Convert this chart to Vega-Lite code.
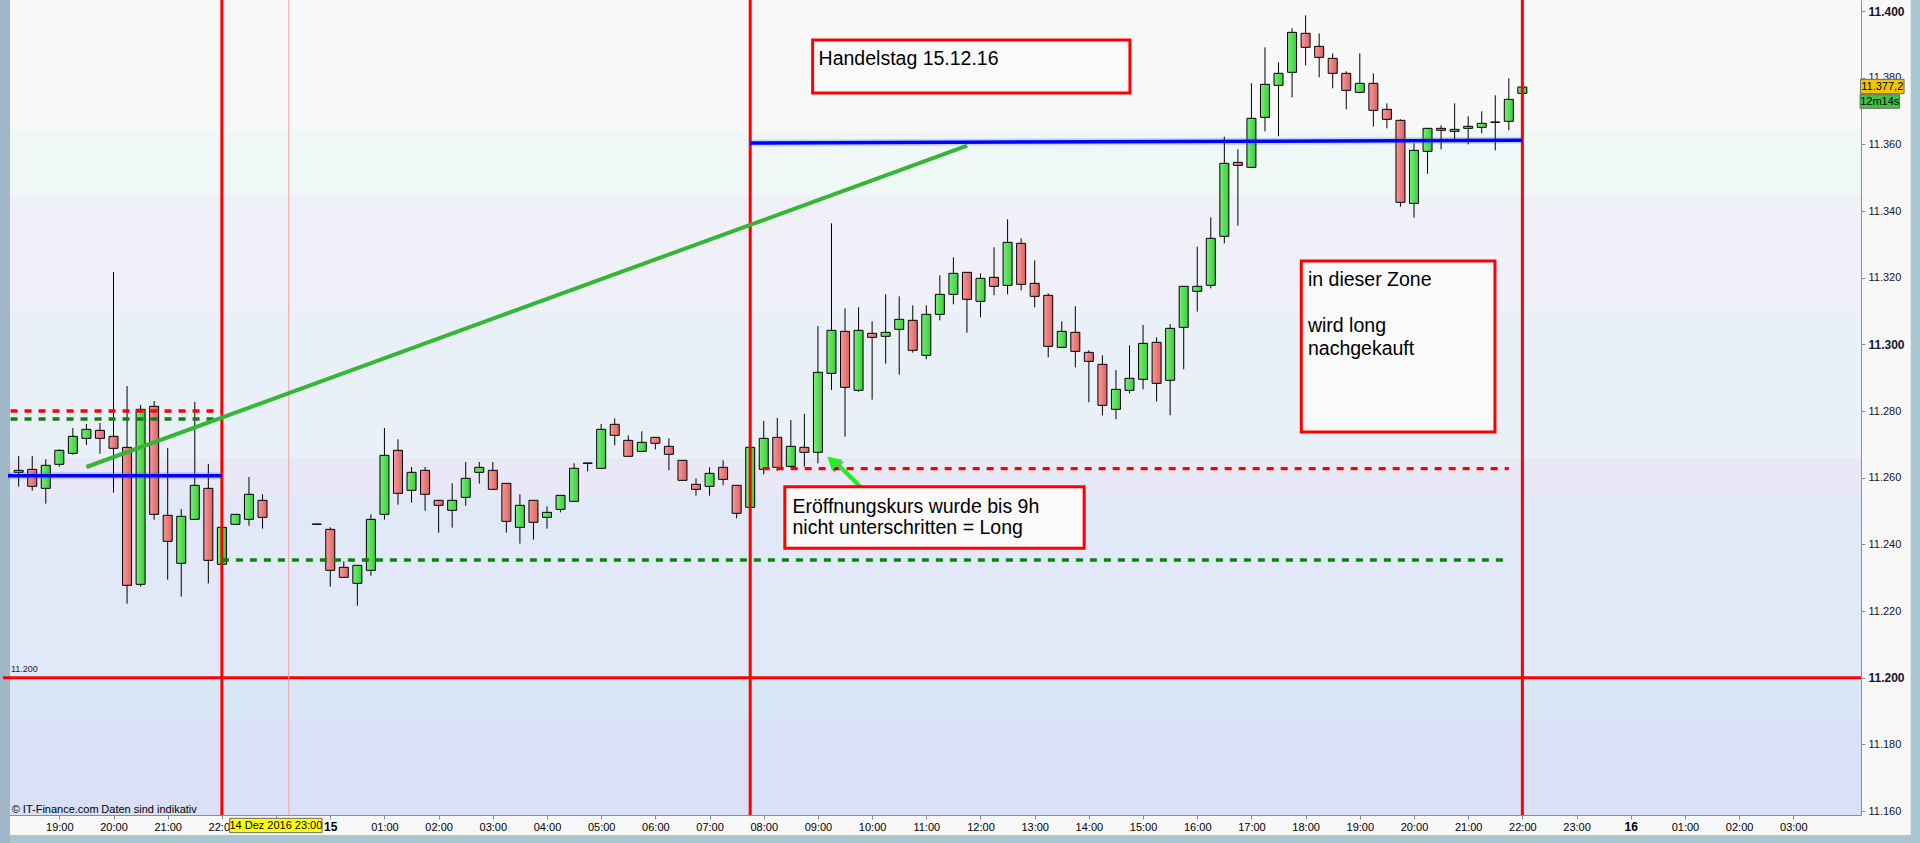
{
  "$schema": "https://vega.github.io/schema/vega-lite/v6.json",
  "width": 1858,
  "height": 815,
  "autosize": {"type": "none"},
  "padding": {"left": 3, "top": 0, "right": 59, "bottom": 28},
  "background": "#f8f8f8",
  "config": {"view": {"stroke": null}},
  "datasets": {
    "bands": [
      {"y1": 11403.3, "y2": 11364.3, "color": "#f8f8f8"},
      {"y1": 11364.3, "y2": 11344.5, "color": "#f0f8f7"},
      {"y1": 11344.5, "y2": 11309.7, "color": "#f0f0f8"},
      {"y1": 11309.7, "y2": 11265.9, "color": "#e9f0f8"},
      {"y1": 11265.9, "y2": 11254.2, "color": "#e8e8f7"},
      {"y1": 11254.2, "y2": 11199.3, "color": "#e1e8f7"},
      {"y1": 11199.3, "y2": 11187.6, "color": "#d9e7f7"},
      {"y1": 11187.6, "y2": 11158.8, "color": "#d9e0f7"}
    ],
    "chrome": [
      {"x1": -6.2, "x2": 29.5, "y1": 11148.0, "y2": 11152.8, "color": "#a9c6d3"},
      {"x1": -6.2, "x2": -5.91, "y1": 11148.0, "y2": 11404.0, "color": "#9fb7c6"},
      {"x1": 29.167, "x2": 29.5, "y1": 11148.0, "y2": 11404.0, "color": "#a9c6d3"}
    ],
    "vlines": [
      {"t": -2.0, "kind": "red"},
      {"t": 7.75, "kind": "red"},
      {"t": 22.0, "kind": "red"},
      {"t": -0.765, "kind": "pink"}
    ],
    "segs": [
      {"kind": "blue", "x1": -5.947, "x2": -2.0, "y1": 11260.6, "y2": 11260.6},
      {"kind": "blue", "x1": 7.75, "x2": 22.0, "y1": 11360.4, "y2": 11361.2},
      {"kind": "reddash", "x1": -5.9, "x2": -2.0, "y1": 11280.0, "y2": 11280.0},
      {"kind": "reddash", "x1": 7.98, "x2": 21.75, "y1": 11262.7, "y2": 11262.7},
      {"kind": "greendash", "x1": -5.9, "x2": -2.0, "y1": 11277.6, "y2": 11277.6},
      {"kind": "greendash", "x1": -2.0, "x2": 21.75, "y1": 11235.3, "y2": 11235.3},
      {"kind": "trend", "x1": -4.5, "x2": 11.755, "y1": 11263.2, "y2": 11359.6},
      {"kind": "arrow", "x1": 9.752, "x2": 9.382, "y1": 11257.8, "y2": 11263.7}
    ],
    "arrowhead": [{"t": 9.264, "v": 11265.0}],
    "boxes": [
      {"x1": 8.902, "x2": 14.758, "y1": 11391.3, "y2": 11375.4},
      {"x1": 17.92, "x2": 21.494, "y1": 11325.0, "y2": 11273.7},
      {"x1": 8.389, "x2": 13.913, "y1": 11257.3, "y2": 11238.8}
    ],
    "boxtexts": [
      {"x": 9.012, "y": 11383.95, "text": "Handelstag 15.12.16"},
      {"x": 18.043, "y": 11317.5, "text": "in dieser Zone"},
      {"x": 18.043, "y": 11303.6, "text": "wird long"},
      {"x": 18.043, "y": 11296.7, "text": "nachgekauft"},
      {"x": 8.53, "y": 11249.5, "text": "Eröffnungskurs wurde bis 9h"},
      {"x": 8.53, "y": 11243.1, "text": "nicht unterschritten = Long"}
    ],
    "footer": [
      {"x": -5.879, "y": 11160.4, "text": "© IT-Finance.com", "style": "normal"},
      {"x": -4.224, "y": 11160.4, "text": "Daten sind indikativ", "style": "italic"}
    ],
    "linelabel": [{"x": -5.892, "y": 11201.0, "text": "11.200"}],
    "tags": [
      {"x1": 28.24, "x2": 29.044, "y1": 11375.2, "y2": 11379.5, "color": "#f2c500", "tx": 28.642, "ty": 11377.35, "text": "11.377,2"},
      {"x1": 28.232, "x2": 28.96, "y1": 11370.8, "y2": 11374.9, "color": "#3ec43e", "tx": 28.596, "ty": 11372.85, "text": "12m14s"},
      {"x1": -1.856, "x2": -0.151, "y1": 11153.5, "y2": 11157.8, "color": "#ffff00", "tx": -1.0035, "ty": 11155.65, "text": "14 Dez 2016 23:00"}
    ],
    "candles": [
      {"t": -5.75, "o": 11261.6, "h": 11266.5, "l": 11257.3, "c": 11262.2},
      {"t": -5.5, "o": 11262.5, "h": 11266.5, "l": 11256.1, "c": 11257.4},
      {"t": -5.25, "o": 11256.8, "h": 11265.5, "l": 11252.2, "c": 11263.7},
      {"t": -5.0, "o": 11264.0, "h": 11268.5, "l": 11263.3, "c": 11268.2},
      {"t": -4.75, "o": 11267.3, "h": 11274.9, "l": 11266.9, "c": 11272.4},
      {"t": -4.5, "o": 11271.8, "h": 11276.1, "l": 11269.8, "c": 11274.5},
      {"t": -4.25, "o": 11274.2, "h": 11276.4, "l": 11267.2, "c": 11271.8},
      {"t": -4.0, "o": 11272.4, "h": 11321.7, "l": 11255.5, "c": 11268.8},
      {"t": -3.75, "o": 11269.1, "h": 11287.5, "l": 11222.2, "c": 11227.7},
      {"t": -3.5, "o": 11228.0, "h": 11281.8, "l": 11227.3, "c": 11280.5},
      {"t": -3.25, "o": 11281.4, "h": 11283.0, "l": 11247.4, "c": 11249.0},
      {"t": -3.0, "o": 11248.7, "h": 11268.9, "l": 11229.4, "c": 11240.9},
      {"t": -2.75, "o": 11234.3, "h": 11250.6, "l": 11224.3, "c": 11248.4},
      {"t": -2.5, "o": 11247.5, "h": 11282.7, "l": 11247.5, "c": 11257.7},
      {"t": -2.25, "o": 11256.8, "h": 11264.1, "l": 11228.3, "c": 11235.2},
      {"t": -2.0, "o": 11234.0, "h": 11246.0, "l": 11233.0, "c": 11245.1},
      {"t": -1.75, "o": 11246.0, "h": 11249.0, "l": 11246.0, "c": 11249.0},
      {"t": -1.5, "o": 11247.5, "h": 11260.2, "l": 11245.6, "c": 11255.0},
      {"t": -1.25, "o": 11253.2, "h": 11255.0, "l": 11244.7, "c": 11248.1},
      {"t": -0.25, "o": 11246.0, "h": 11246.1, "l": 11246.0, "c": 11246.1},
      {"t": 0.0, "o": 11244.5, "h": 11245.1, "l": 11227.3, "c": 11232.2},
      {"t": 0.25, "o": 11233.1, "h": 11234.9, "l": 11230.1, "c": 11230.1},
      {"t": 0.5, "o": 11228.3, "h": 11233.7, "l": 11221.6, "c": 11233.7},
      {"t": 0.75, "o": 11232.2, "h": 11249.0, "l": 11230.6, "c": 11247.5},
      {"t": 1.0, "o": 11249.0, "h": 11274.9, "l": 11247.4, "c": 11266.7},
      {"t": 1.25, "o": 11268.2, "h": 11271.5, "l": 11251.9, "c": 11255.3},
      {"t": 1.5, "o": 11256.2, "h": 11263.2, "l": 11252.5, "c": 11261.6},
      {"t": 1.75, "o": 11262.2, "h": 11263.2, "l": 11250.1, "c": 11255.0},
      {"t": 2.0, "o": 11253.2, "h": 11253.2, "l": 11243.5, "c": 11251.7},
      {"t": 2.25, "o": 11250.2, "h": 11258.3, "l": 11245.0, "c": 11253.2},
      {"t": 2.5, "o": 11254.1, "h": 11264.7, "l": 11251.6, "c": 11259.8},
      {"t": 2.75, "o": 11261.6, "h": 11264.7, "l": 11258.2, "c": 11263.1},
      {"t": 3.0, "o": 11262.2, "h": 11264.7, "l": 11256.5, "c": 11256.5},
      {"t": 3.25, "o": 11258.3, "h": 11258.3, "l": 11243.5, "c": 11246.9},
      {"t": 3.5, "o": 11245.1, "h": 11255.0, "l": 11240.2, "c": 11251.7},
      {"t": 3.75, "o": 11253.2, "h": 11253.2, "l": 11241.4, "c": 11246.6},
      {"t": 4.0, "o": 11248.1, "h": 11251.4, "l": 11244.7, "c": 11249.6},
      {"t": 4.25, "o": 11250.5, "h": 11254.7, "l": 11249.6, "c": 11254.7},
      {"t": 4.5, "o": 11252.9, "h": 11264.3, "l": 11252.9, "c": 11262.8},
      {"t": 4.75, "o": 11264.3, "h": 11264.4, "l": 11261.9, "c": 11264.4},
      {"t": 5.0, "o": 11262.8, "h": 11276.1, "l": 11262.8, "c": 11274.5},
      {"t": 5.25, "o": 11276.0, "h": 11277.8, "l": 11269.7, "c": 11272.7},
      {"t": 5.5, "o": 11271.2, "h": 11272.7, "l": 11266.4, "c": 11266.4},
      {"t": 5.75, "o": 11267.9, "h": 11273.9, "l": 11267.9, "c": 11270.6},
      {"t": 6.0, "o": 11272.1, "h": 11272.1, "l": 11268.5, "c": 11270.3},
      {"t": 6.25, "o": 11269.4, "h": 11271.8, "l": 11262.2, "c": 11267.0},
      {"t": 6.5, "o": 11265.2, "h": 11265.2, "l": 11259.2, "c": 11259.2},
      {"t": 6.75, "o": 11258.0, "h": 11259.8, "l": 11254.6, "c": 11256.5},
      {"t": 7.0, "o": 11257.4, "h": 11263.1, "l": 11254.6, "c": 11261.3},
      {"t": 7.25, "o": 11263.1, "h": 11265.2, "l": 11257.7, "c": 11259.5},
      {"t": 7.5, "o": 11257.7, "h": 11257.7, "l": 11247.8, "c": 11249.3},
      {"t": 7.75, "o": 11251.1, "h": 11270.0, "l": 11250.0, "c": 11269.1},
      {"t": 8.0, "o": 11262.5, "h": 11277.0, "l": 11261.0, "c": 11271.8},
      {"t": 8.25, "o": 11272.1, "h": 11277.9, "l": 11262.0, "c": 11263.1},
      {"t": 8.5, "o": 11263.4, "h": 11277.3, "l": 11263.0, "c": 11269.4},
      {"t": 8.75, "o": 11269.1, "h": 11279.1, "l": 11263.3, "c": 11267.6},
      {"t": 9.0, "o": 11267.6, "h": 11305.5, "l": 11264.3, "c": 11291.6},
      {"t": 9.25, "o": 11291.3, "h": 11336.3, "l": 11286.3, "c": 11304.2},
      {"t": 9.5, "o": 11303.9, "h": 11310.8, "l": 11272.3, "c": 11287.1},
      {"t": 9.75, "o": 11286.2, "h": 11311.1, "l": 11285.8, "c": 11304.2},
      {"t": 10.0, "o": 11303.3, "h": 11306.9, "l": 11283.4, "c": 11302.1},
      {"t": 10.25, "o": 11302.4, "h": 11315.0, "l": 11294.2, "c": 11303.6},
      {"t": 10.5, "o": 11304.5, "h": 11314.4, "l": 11290.9, "c": 11307.5},
      {"t": 10.75, "o": 11307.2, "h": 11311.7, "l": 11297.5, "c": 11298.2},
      {"t": 11.0, "o": 11296.7, "h": 11311.7, "l": 11295.5, "c": 11309.0},
      {"t": 11.25, "o": 11309.0, "h": 11320.7, "l": 11307.2, "c": 11315.0},
      {"t": 11.5, "o": 11315.0, "h": 11326.1, "l": 11312.0, "c": 11321.3},
      {"t": 11.75, "o": 11321.6, "h": 11321.6, "l": 11303.5, "c": 11313.5},
      {"t": 12.0, "o": 11312.9, "h": 11321.3, "l": 11308.1, "c": 11319.8},
      {"t": 12.25, "o": 11320.1, "h": 11329.1, "l": 11314.7, "c": 11317.4},
      {"t": 12.5, "o": 11317.7, "h": 11337.5, "l": 11315.0, "c": 11330.6},
      {"t": 12.75, "o": 11330.3, "h": 11331.8, "l": 11316.2, "c": 11318.0},
      {"t": 13.0, "o": 11318.3, "h": 11325.2, "l": 11311.1, "c": 11314.4},
      {"t": 13.25, "o": 11314.7, "h": 11315.3, "l": 11296.1, "c": 11299.4},
      {"t": 13.5, "o": 11299.1, "h": 11306.9, "l": 11299.1, "c": 11303.9},
      {"t": 13.75, "o": 11303.6, "h": 11311.4, "l": 11293.1, "c": 11297.9},
      {"t": 14.0, "o": 11297.6, "h": 11298.2, "l": 11282.6, "c": 11294.9},
      {"t": 14.25, "o": 11294.0, "h": 11296.7, "l": 11278.7, "c": 11281.7},
      {"t": 14.5, "o": 11280.5, "h": 11292.3, "l": 11277.5, "c": 11286.5},
      {"t": 14.75, "o": 11286.2, "h": 11299.7, "l": 11285.3, "c": 11289.8},
      {"t": 15.0, "o": 11289.5, "h": 11305.8, "l": 11286.5, "c": 11300.3},
      {"t": 15.25, "o": 11300.6, "h": 11302.1, "l": 11282.9, "c": 11288.3},
      {"t": 15.5, "o": 11289.2, "h": 11306.1, "l": 11278.7, "c": 11304.8},
      {"t": 15.75, "o": 11305.1, "h": 11317.4, "l": 11292.5, "c": 11317.4},
      {"t": 16.0, "o": 11315.9, "h": 11329.3, "l": 11309.8, "c": 11317.4},
      {"t": 16.25, "o": 11317.7, "h": 11338.1, "l": 11316.8, "c": 11331.8},
      {"t": 16.5, "o": 11332.4, "h": 11362.3, "l": 11330.3, "c": 11354.3},
      {"t": 16.75, "o": 11354.6, "h": 11358.5, "l": 11335.6, "c": 11353.7},
      {"t": 17.0, "o": 11353.1, "h": 11378.3, "l": 11353.1, "c": 11367.8},
      {"t": 17.25, "o": 11368.1, "h": 11389.1, "l": 11363.9, "c": 11378.0},
      {"t": 17.5, "o": 11377.7, "h": 11384.6, "l": 11362.4, "c": 11381.3},
      {"t": 17.75, "o": 11381.6, "h": 11394.8, "l": 11374.1, "c": 11393.6},
      {"t": 18.0, "o": 11393.3, "h": 11398.7, "l": 11383.7, "c": 11389.1},
      {"t": 18.25, "o": 11389.4, "h": 11393.3, "l": 11380.1, "c": 11386.1},
      {"t": 18.5, "o": 11385.8, "h": 11387.3, "l": 11376.8, "c": 11381.3},
      {"t": 18.75, "o": 11381.3, "h": 11381.9, "l": 11370.5, "c": 11376.2},
      {"t": 19.0, "o": 11375.6, "h": 11387.3, "l": 11375.3, "c": 11378.3},
      {"t": 19.25, "o": 11378.3, "h": 11381.3, "l": 11365.3, "c": 11370.2},
      {"t": 19.5, "o": 11370.5, "h": 11372.3, "l": 11364.8, "c": 11367.5},
      {"t": 19.75, "o": 11367.2, "h": 11367.5, "l": 11341.3, "c": 11342.6},
      {"t": 20.0, "o": 11342.3, "h": 11360.3, "l": 11338.0, "c": 11358.2},
      {"t": 20.25, "o": 11357.9, "h": 11364.8, "l": 11351.2, "c": 11364.8},
      {"t": 20.5, "o": 11364.8, "h": 11365.7, "l": 11358.5, "c": 11364.2},
      {"t": 20.75, "o": 11363.9, "h": 11372.3, "l": 11361.5, "c": 11364.5},
      {"t": 21.0, "o": 11364.8, "h": 11368.4, "l": 11360.0, "c": 11365.4},
      {"t": 21.25, "o": 11365.1, "h": 11369.9, "l": 11363.3, "c": 11366.3},
      {"t": 21.5, "o": 11366.6, "h": 11374.7, "l": 11358.2, "c": 11366.7},
      {"t": 21.75, "o": 11366.9, "h": 11379.8, "l": 11364.2, "c": 11373.5},
      {"t": 22.0, "o": 11375.3, "h": 11377.5, "l": 11375.0, "c": 11377.2}
    ]
  },
  "layer": [
    {
      "data": {"name": "candles"},
      "mark": {"type": "rule", "color": "#000000", "strokeWidth": 1, "opacity": 0},
      "encoding": {
        "x": {
          "field": "t", "type": "quantitative", "title": null,
          "scale": {"domain": [-5.947, 28.157], "nice": false, "zero": false},
          "axis": {
            "title": null,
            "values": [-5, -4, -3, -2, -1, 0, 1, 2, 3, 4, 5, 6, 7, 8, 9, 10, 11, 12, 13, 14, 15, 16, 17, 18, 19, 20, 21, 22, 23, 24, 25, 26, 27],
            "labelExpr": "(((datum.value % 24) + 24) % 24) == 0 ? '' + (15 + floor(datum.value / 24)) : (((((datum.value % 24) + 24) % 24) < 10) ? '0' : '') + (((datum.value % 24) + 24) % 24) + ':00'",
            "labelFontWeight": {"condition": {"test": "(((datum.value % 24) + 24) % 24) == 0", "value": "bold"}, "value": "normal"},
            "labelFontSize": {"condition": {"test": "(((datum.value % 24) + 24) % 24) == 0", "value": 12}, "value": 11},
            "labelFont": "Liberation Sans",
            "labelColor": "#000000",
            "labelPadding": 2,
            "tickSize": 4,
            "tickColor": "#7d93a3",
            "domainColor": "#7d93a3",
            "grid": false,
            "labelOverlap": false,
            "labelFlush": false,
            "labelBound": false
          }
        },
        "y": {
          "field": "l", "type": "quantitative", "title": null,
          "scale": {"domain": [11158.8, 11403.3], "nice": false, "zero": false},
          "axis": {
            "title": null,
            "orient": "right",
            "values": [11160, 11170, 11180, 11190, 11200, 11210, 11220, 11230, 11240, 11250, 11260, 11270, 11280, 11290, 11300, 11310, 11320, 11330, 11340, 11350, 11360, 11370, 11380, 11390, 11400],
            "labelExpr": "datum.value % 20 == 0 ? replace(format(datum.value, ',.0f'), ',', '.') : ''",
            "labelFontWeight": {"condition": {"test": "datum.value % 100 == 0", "value": "bold"}, "value": "normal"},
            "labelFontSize": {"condition": {"test": "datum.value % 100 == 0", "value": 12}, "value": 11},
            "labelFont": "Liberation Sans",
            "labelColor": "#14142a",
            "labelPadding": 3,
            "tickSize": 4,
            "tickColor": "#7d93a3",
            "domainColor": "#7d93a3",
            "grid": false,
            "labelOverlap": false,
            "labelFlush": false,
            "labelBound": false
          }
        },
        "y2": {"field": "h"}
      }
    },
    {
      "data": {"name": "bands"},
      "mark": {"type": "rect", "clip": true},
      "encoding": {
        "x": {"datum": -7, "type": "quantitative", "title": null},
        "x2": {"datum": 30},
        "y": {"field": "y1", "type": "quantitative", "title": null},
        "y2": {"field": "y2"},
        "fill": {"field": "color", "type": "nominal", "scale": null, "legend": null}
      }
    },
    {
      "data": {"name": "chrome"},
      "mark": {"type": "rect"},
      "encoding": {
        "x": {"field": "x1", "type": "quantitative", "title": null},
        "x2": {"field": "x2"},
        "y": {"field": "y1", "type": "quantitative", "title": null},
        "y2": {"field": "y2"},
        "fill": {"field": "color", "type": "nominal", "scale": null, "legend": null}
      }
    },
    {
      "data": {"values": [{"v": 11200}]},
      "mark": {"type": "rule", "color": "#ff0000", "strokeWidth": 3, "clip": true},
      "encoding": {
        "y": {"field": "v", "type": "quantitative", "title": null}
      }
    },
    {
      "data": {"name": "vlines"},
      "transform": [{"filter": "datum.kind == 'pink'"}],
      "mark": {"type": "rule", "color": "#f2a0a0", "strokeWidth": 1},
      "encoding": {
        "x": {"field": "t", "type": "quantitative", "title": null}
      }
    },
    {
      "data": {"name": "candles"},
      "mark": {"type": "rule", "color": "#000000", "strokeWidth": 1},
      "encoding": {
        "x": {"field": "t", "type": "quantitative", "title": null},
        "y": {"field": "l", "type": "quantitative", "title": null},
        "y2": {"field": "h"}
      }
    },
    {
      "data": {"name": "candles"},
      "transform": [{"filter": "datum.c >= datum.o"}],
      "mark": {
        "type": "bar", "size": 9, "stroke": "#000000", "strokeWidth": 1,
        "fill": {"gradient": "linear", "x1": 0, "y1": 0, "x2": 1, "y2": 0, "stops": [{"offset": 0, "color": "#78ee78"}, {"offset": 1, "color": "#3ccb3c"}]}
      },
      "encoding": {
        "x": {"field": "t", "type": "quantitative", "title": null},
        "y": {"field": "o", "type": "quantitative", "title": null},
        "y2": {"field": "c"}
      }
    },
    {
      "data": {"name": "candles"},
      "transform": [{"filter": "datum.c < datum.o"}],
      "mark": {
        "type": "bar", "size": 9, "stroke": "#000000", "strokeWidth": 1,
        "fill": {"gradient": "linear", "x1": 0, "y1": 0, "x2": 1, "y2": 0, "stops": [{"offset": 0, "color": "#f79a9a"}, {"offset": 1, "color": "#dc6262"}]}
      },
      "encoding": {
        "x": {"field": "t", "type": "quantitative", "title": null},
        "y": {"field": "o", "type": "quantitative", "title": null},
        "y2": {"field": "c"}
      }
    },
    {
      "data": {"name": "vlines"},
      "transform": [{"filter": "datum.kind == 'red'"}],
      "mark": {"type": "rule", "color": "#ff0000", "strokeWidth": 3},
      "encoding": {
        "x": {"field": "t", "type": "quantitative", "title": null}
      }
    },
    {
      "data": {"name": "segs"},
      "transform": [{"filter": "datum.kind == 'blue'"}],
      "mark": {"type": "rule", "color": "#3050ff", "strokeWidth": 7, "opacity": 0.22},
      "encoding": {
        "x": {"field": "x1", "type": "quantitative", "title": null},
        "x2": {"field": "x2"},
        "y": {"field": "y1", "type": "quantitative", "title": null},
        "y2": {"field": "y2"}
      }
    },
    {
      "data": {"name": "segs"},
      "transform": [{"filter": "datum.kind == 'blue'"}],
      "mark": {"type": "rule", "color": "#0000ff", "strokeWidth": 3.5},
      "encoding": {
        "x": {"field": "x1", "type": "quantitative", "title": null},
        "x2": {"field": "x2"},
        "y": {"field": "y1", "type": "quantitative", "title": null},
        "y2": {"field": "y2"}
      }
    },
    {
      "data": {"name": "segs"},
      "transform": [{"filter": "datum.kind == 'reddash'"}],
      "mark": {"type": "rule", "color": "#ff0000", "strokeWidth": 3.3, "strokeDash": [7, 7]},
      "encoding": {
        "x": {"field": "x1", "type": "quantitative", "title": null},
        "x2": {"field": "x2"},
        "y": {"field": "y1", "type": "quantitative", "title": null},
        "y2": {"field": "y2"}
      }
    },
    {
      "data": {"name": "segs"},
      "transform": [{"filter": "datum.kind == 'greendash'"}],
      "mark": {"type": "rule", "color": "#0c820c", "strokeWidth": 3.3, "strokeDash": [7, 7]},
      "encoding": {
        "x": {"field": "x1", "type": "quantitative", "title": null},
        "x2": {"field": "x2"},
        "y": {"field": "y1", "type": "quantitative", "title": null},
        "y2": {"field": "y2"}
      }
    },
    {
      "data": {"name": "segs"},
      "transform": [{"filter": "datum.kind == 'trend'"}],
      "mark": {"type": "rule", "color": "#36b636", "strokeWidth": 4},
      "encoding": {
        "x": {"field": "x1", "type": "quantitative", "title": null},
        "x2": {"field": "x2"},
        "y": {"field": "y1", "type": "quantitative", "title": null},
        "y2": {"field": "y2"}
      }
    },
    {
      "data": {"name": "segs"},
      "transform": [{"filter": "datum.kind == 'arrow'"}],
      "mark": {"type": "rule", "color": "#000000", "strokeWidth": 4, "opacity": 0.3, "xOffset": 2, "yOffset": 2},
      "encoding": {
        "x": {"field": "x1", "type": "quantitative", "title": null},
        "x2": {"field": "x2"},
        "y": {"field": "y1", "type": "quantitative", "title": null},
        "y2": {"field": "y2"}
      }
    },
    {
      "data": {"name": "arrowhead"},
      "mark": {"type": "point", "shape": "triangle-up", "angle": 312, "size": 230, "filled": true, "color": "#000000", "opacity": 0.3, "xOffset": 2, "yOffset": 2},
      "encoding": {
        "x": {"field": "t", "type": "quantitative", "title": null},
        "y": {"field": "v", "type": "quantitative", "title": null}
      }
    },
    {
      "data": {"name": "segs"},
      "transform": [{"filter": "datum.kind == 'arrow'"}],
      "mark": {"type": "rule", "color": "#22ee22", "strokeWidth": 4},
      "encoding": {
        "x": {"field": "x1", "type": "quantitative", "title": null},
        "x2": {"field": "x2"},
        "y": {"field": "y1", "type": "quantitative", "title": null},
        "y2": {"field": "y2"}
      }
    },
    {
      "data": {"name": "arrowhead"},
      "mark": {"type": "point", "shape": "triangle-up", "angle": 312, "size": 230, "filled": true, "color": "#22ee22", "opacity": 1},
      "encoding": {
        "x": {"field": "t", "type": "quantitative", "title": null},
        "y": {"field": "v", "type": "quantitative", "title": null}
      }
    },
    {
      "data": {"name": "boxes"},
      "mark": {"type": "rect", "fill": "#000000", "opacity": 0.18, "xOffset": 4, "yOffset": 4},
      "encoding": {
        "x": {"field": "x1", "type": "quantitative", "title": null},
        "x2": {"field": "x2"},
        "y": {"field": "y1", "type": "quantitative", "title": null},
        "y2": {"field": "y2"}
      }
    },
    {
      "data": {"name": "boxes"},
      "mark": {"type": "rect", "fill": "#fafafa", "stroke": "#ff0000", "strokeWidth": 3},
      "encoding": {
        "x": {"field": "x1", "type": "quantitative", "title": null},
        "x2": {"field": "x2"},
        "y": {"field": "y1", "type": "quantitative", "title": null},
        "y2": {"field": "y2"}
      }
    },
    {
      "data": {"name": "boxtexts"},
      "mark": {"type": "text", "align": "left", "baseline": "alphabetic", "font": "Liberation Sans", "fontSize": 19.5, "color": "#000000"},
      "encoding": {
        "x": {"field": "x", "type": "quantitative", "title": null},
        "y": {"field": "y", "type": "quantitative", "title": null},
        "text": {"field": "text", "type": "nominal"}
      }
    },
    {
      "data": {"name": "footer"},
      "mark": {"type": "text", "align": "left", "baseline": "middle", "font": "Liberation Sans", "fontSize": 11, "color": "#000000"},
      "encoding": {
        "x": {"field": "x", "type": "quantitative", "title": null},
        "y": {"field": "y", "type": "quantitative", "title": null},
        "text": {"field": "text", "type": "nominal"},
        "fontStyle": {"field": "style", "type": "nominal", "scale": null, "legend": null}
      }
    },
    {
      "data": {"name": "linelabel"},
      "mark": {"type": "text", "align": "left", "baseline": "bottom", "font": "Liberation Sans", "fontSize": 9, "color": "#222222"},
      "encoding": {
        "x": {"field": "x", "type": "quantitative", "title": null},
        "y": {"field": "y", "type": "quantitative", "title": null},
        "text": {"field": "text", "type": "nominal"}
      }
    },
    {
      "data": {"name": "tags"},
      "mark": {"type": "rect", "stroke": "#6a6a6a", "strokeWidth": 1},
      "encoding": {
        "x": {"field": "x1", "type": "quantitative", "title": null},
        "x2": {"field": "x2"},
        "y": {"field": "y1", "type": "quantitative", "title": null},
        "y2": {"field": "y2"},
        "fill": {"field": "color", "type": "nominal", "scale": null, "legend": null}
      }
    },
    {
      "data": {"name": "tags"},
      "mark": {"type": "text", "align": "center", "baseline": "middle", "font": "Liberation Sans", "fontSize": 11, "color": "#000000"},
      "encoding": {
        "x": {"field": "tx", "type": "quantitative", "title": null},
        "y": {"field": "ty", "type": "quantitative", "title": null},
        "text": {"field": "text", "type": "nominal"}
      }
    }
  ]
}
